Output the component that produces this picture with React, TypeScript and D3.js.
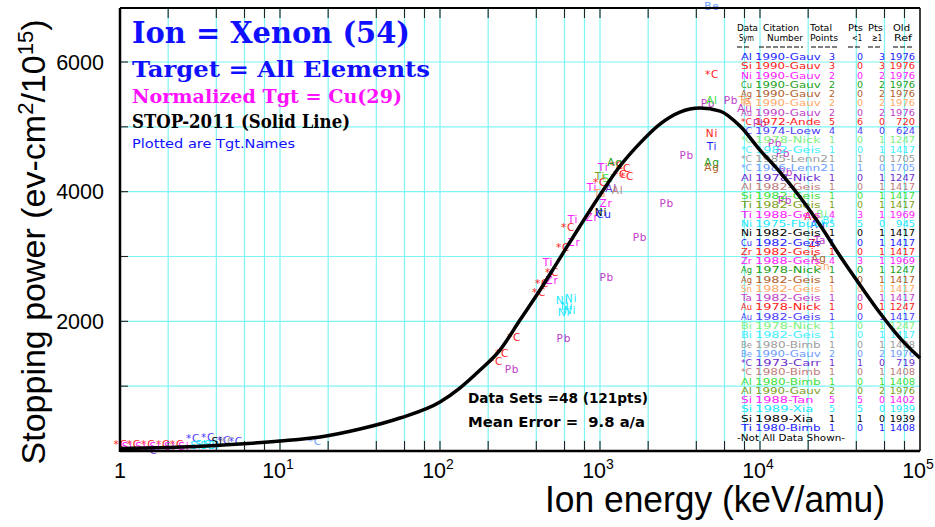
import React from "react";
import * as d3 from "d3";

// ---------- STOP-2011 curve (Xe in Cu) ----------
const curveE = [1, 2, 3, 5.6, 10, 17.8, 31.6, 56.2, 100, 133, 178, 237, 316, 422, 562, 750, 1000, 1334, 1778, 2371, 3162, 4217, 5623, 7499, 10000, 13335, 17783, 23714, 31623, 42170, 56234, 74989, 100000];
const curveV = [40, 55, 70, 108, 154, 216, 339, 509, 756, 971, 1249, 1557, 2020, 2483, 2976, 3470, 3948, 4395, 4749, 5042, 5227, 5289, 5243, 5012, 4641, 4302, 3917, 3485, 3007, 2560, 2128, 1742, 1434];

// ---------- data-set table ----------
const dataSym = ["Al","Si","Ni","Cu","Ag","Ta","Au","*C","*C","*C","*C","*C","*C","Al","Al","Si","Ti","Ti","Ni","Ni","Cu","Zr","Zr","Ag","Ag","Sn","Ta","Au","Au","Bi","Bi","Be","Be","*C","*C","Al","Al","Si","Si","Si","Ti"];
const citations = ["1990-Gauv","1990-Gauv","1990-Gauv","1990-Gauv","1990-Gauv","1990-Gauv","1990-Gauv","1972-Ande","1974-Loew","1978-Nick","1982-Geis","1985-Lenn2","1986-Lenn2","1978-Nick","1982-Geis","1982-Geis","1982-Geis","1988-Geis","1975-Fbuch","1982-Geis","1982-Geis","1982-Geis","1988-Geis","1978-Nick","1982-Geis","1982-Geis","1982-Geis","1978-Nick","1982-Geis","1978-Nick","1982-Geis","1980-Bimb","1990-Gauv","1973-Carr","1980-Bimb","1980-Bimb","1990-Gauv","1988-Tan","1989-Xia","1989-Xia","1980-Bimb"];
const totals = [3,3,2,2,2,2,2,5,4,1,1,1,1,1,1,1,1,4,5,1,1,1,4,1,1,1,1,1,1,1,1,1,2,1,1,1,2,5,5,1,1];
const ptsLt1 = [0,0,0,0,0,0,0,6,4,0,0,1,1,0,0,0,0,3,5,0,0,0,3,0,0,0,0,0,0,0,0,0,0,1,0,0,0,5,5,1,0];
const ptsGe1 = [3,3,2,2,2,2,2,0,0,1,1,0,0,1,1,1,1,1,0,1,1,1,1,1,1,1,1,1,1,1,1,1,2,0,1,1,2,0,0,0,1];
const oldRef = ["1976","1976","1976","1976","1976","1976","1976","720","624","1247","1417","1705","1705","1247","1417","1417","1417","1969","945","1417","1417","1417","1969","1247","1417","1417","1417","1247","1417","1247","1417","1408","1976","719","1408","1408","1976","1402","1939","1939","1408"];
const headerTop = ["Data", "Citation", "Total", "Pts", "Pts", "Old"];
const headerBottom = ["Sym", "Number", "Points", "<1", "\u22651", "Ref"];

// ---------- measured points: [label, data set, energy keV/amu, stopping] ----------
const points: [string, number, number, number][] = [
  ["*C",7,1.01,108],["*C",7,1.22,108],["*C",7,1.5,108],["*C",7,1.86,108],["*C",7,2.27,108],
  ["Si",37,1.11,77],["Si",37,1.35,77],["Si",37,1.66,77],["Si",37,2.05,77],["Si",37,2.51,77],
  ["*C",33,1.55,10],
  ["*C",8,2.86,200],["*C",8,3.55,216],["*C",8,4.47,170],["*C",8,5.3,154],
  ["*C",11,4.73,154],
  ["Si",38,2.98,93],["Si",38,3.2,100],["Si",38,3.44,93],["Si",38,3.65,100],["Si",38,3.87,93],
  ["Si",39,4.04,154],
  ["*C",12,16.5,154],
  ["*C",47,224,1388],["*C",47,244,1511],["*C",47,290,1758],["*C",47,416,2452],["*C",47,434,2591],["*C",47,501,2760],["*C",47,587,3146],["*C",47,631,3454],["*C",47,1000,4148],["*C",47,1277,4410],["*C",47,1413,4364],["*C",47,1334,4271],["*C",47,1476,4240],["*C",47,5012,5813],
  ["Ti",17,473,2914],["Ti",17,678,3577],["Ti",17,891,4071],["Ti",17,1045,4379],
  ["Zr",22,501,2637],["Zr",22,688,3223],["Zr",22,891,3608],["Zr",22,1090,3824],
  ["Ni",18,579,2328],["Ni",18,622,2236],["Ni",18,659,2359],["Ni",18,596,2143],["Ni",18,649,2174],
  ["Al",13,1172,4055],["Al",14,1290,4025],["Si",15,1122,4210],["Ti",16,1000,4240],
  ["Ag",23,1241,4456],["Ta",5,1000,3978],["Ni",19,1014,3685],["Cu",20,1059,3655],
  ["Pb",46,282,1264],["Pb",46,594,1742],["Pb",46,1101,2683],["Pb",46,1778,3300],["Pb",46,2611,3824],["Pb",46,3487,4564],["Pb",46,4732,5366],
  ["Pb",46,6590,5412],["Pb",46,10000,5058],["Pb",46,12400,4749],["Pb",46,13930,4595],["Pb",46,14540,4302],["Pb",46,14330,3870],
  ["Ti",40,5012,4703],["Ag",3,5012,4456],["Ag",4,5012,4379],["Ni",1,5012,4904],["Al",35,5012,5412],["Ta",5,8060,5412],["Au",6,8060,5289],
  ["Be",32,5012,6862],
  ["Au",27,21130,3624],["Bi",29,24410,3655],["Bi",30,26610,3562],["Au",28,23040,3500],["Zr",21,22070,3207],["Ta",26,23710,3254],["Ag",24,23390,2976],["Sn",25,24780,2853],
];

const yGridValues = [1000, 2000, 3000, 4000, 5000, 6000];
const yTickLabels = [2000, 4000, 6000];
const xDecades = [0, 1, 2, 3, 4, 5];
const minorMult = [2, 4, 6, 8];

const palette = ["#1c1cff","#ff2020","#ff20ff","#20a020","#b0602c","#ffa868","#c040c8","#ff2020","#4c3cff","#7ef07e","#3cf0ff","#9c9c9c","#6c9cff","#6c2cd0","#c07c7c","#3ce03c","#7ca020","#ff20ff","#20e8ff","#000000"];

export default function App() {
  const W = 935, H = 527;
  const x = d3.scaleLog().domain([1, 1e5]).range([120, 920]);
  const y = d3.scaleLinear().domain([0, 6000]).range([451, 62]);
  const top = 8;
  const left = x(1), right = x(1e5), bottom = y(0);

  const gridE: number[] = [];
  for (let d = 0; d < 5; d++) {
    for (const m of minorMult) gridE.push(m * Math.pow(10, d));
    if (d > 0) gridE.push(Math.pow(10, d));
  }

  const line = d3.line<number>()
    .x((_, i) => x(curveE[i]))
    .y((d) => y(d))
    .curve(d3.curveMonotoneX);

  const rowY = (i: number) => 60 + i * 9.275;
  const tbl = { fontFamily: "DejaVu Sans", fontSize: 9.5 } as any;
  const serifB = { fontFamily: "DejaVu Serif", fontWeight: "bold" } as any;
  // header layout: [x start top, width top, x start bottom, width bottom]
  const headPos = [[737, 21, 739, 15], [763, 36, 767, 36], [810, 22, 810, 28], [848, 15, 852, 10], [868, 15, 872, 10], [893, 17, 894, 18]];

  return (
    <svg width={W} height={H} style={{ position: "absolute", left: 0, top: 0, background: "#fff" }}>
      <rect x={0} y={0} width={W} height={H} fill="#fff" />
      {/* grid */}
      {gridE.map((e, i) => (
        <line key={"gv" + i} x1={x(e)} x2={x(e)} y1={top} y2={bottom} stroke="#7ff4f4" strokeWidth={1.2} />
      ))}
      {yGridValues.map((v, i) => (
        <line key={"gh" + i} x1={left} x2={right} y1={y(v)} y2={y(v)} stroke="#7ff4f4" strokeWidth={1.2} />
      ))}
      {/* ticks */}
      {gridE.map((e, i) => (
        <g key={"tk" + i}>
          <line x1={x(e)} x2={x(e)} y1={top} y2={top + 10} stroke="#222" strokeWidth={1.1} />
          <line x1={x(e)} x2={x(e)} y1={bottom} y2={bottom - 10} stroke="#222" strokeWidth={1.1} />
        </g>
      ))}
      {yGridValues.map((v, i) => (
        <line key={"yt" + i} x1={left} x2={left + 8} y1={y(v)} y2={y(v)} stroke="#222" strokeWidth={1.1} />
      ))}

      {/* data point labels */}
      {points.map((p, i) => (
        <text key={"pt" + i} x={x(p[2])} y={y(p[3])} dy="0.35em" textAnchor="middle"
          fill={palette[p[1] % 20]} style={{ fontFamily: "DejaVu Sans", fontSize: 10.5, letterSpacing: 0.8 }}>
          {p[0]}
        </text>
      ))}

      {/* titles inside plot */}
      <text x={132} y={43} fill="#1010ff" fontSize={29} textLength={278} lengthAdjust="spacingAndGlyphs" style={serifB}>Ion = Xenon (54)</text>
      <text x={132} y={77} fill="#1010ff" fontSize={22} textLength={298} lengthAdjust="spacingAndGlyphs" style={serifB}>Target = All Elements</text>
      <text x={132} y={103} fill="#ff10ff" fontSize={18.5} textLength={270} lengthAdjust="spacingAndGlyphs" style={serifB}>Normalized Tgt = Cu(29)</text>
      <text x={132} y={128} fill="#000" fontSize={18} textLength={218} lengthAdjust="spacingAndGlyphs" style={serifB}>STOP-2011 (Solid Line)</text>
      <text x={132} y={148} fill="#1010ff" fontSize={12.5} textLength={163} lengthAdjust="spacingAndGlyphs" style={{ fontFamily: "DejaVu Sans" }}>Plotted are Tgt.Names</text>

      <text x={468} y={403} fill="#000" fontSize={14} textLength={180} lengthAdjust="spacingAndGlyphs" style={{ fontFamily: "DejaVu Sans", fontWeight: "bold", whiteSpace: "pre" }}>Data Sets =48 (121pts)</text>
      <text x={468} y={427} fill="#000" fontSize={14} textLength={177} lengthAdjust="spacingAndGlyphs" style={{ fontFamily: "DejaVu Sans", fontWeight: "bold", whiteSpace: "pre" }}>{"Mean Error =  9.8 a/a"}</text>

      {/* table header */}
      {headerTop.map((h, i) => (
        <g key={"hd" + i} fill="#000" style={tbl}>
          <text x={headPos[i][0]} y={31} textLength={headPos[i][1]} lengthAdjust="spacingAndGlyphs">{h}</text>
          <text x={headPos[i][2]} y={41} textLength={headPos[i][3]} lengthAdjust="spacingAndGlyphs">{headerBottom[i]}</text>
        </g>
      ))}
      {[[737, 750], [759, 803], [811, 838], [848, 862], [868, 882], [893, 912]].map((s, i) => (
        <line key={"dash" + i} x1={s[0]} x2={s[1]} y1={47} y2={47} stroke="#000" strokeWidth={1.2} strokeDasharray="5,2" />
      ))}
      {dataSym.map((s, i) => (
        <g key={"row" + i} fill={palette[i % 20]} style={tbl}>
          <text x={741} y={rowY(i)} textLength={s.length * 5.5} lengthAdjust="spacingAndGlyphs">{s}</text>
          <text x={755} y={rowY(i)} textLength={citations[i].length * 7.3} lengthAdjust="spacingAndGlyphs">{citations[i]}</text>
          <text x={832} y={rowY(i)} textAnchor="middle">{totals[i]}</text>
          <text x={860} y={rowY(i)} textAnchor="middle">{ptsLt1[i]}</text>
          <text x={882} y={rowY(i)} textAnchor="middle">{ptsGe1[i]}</text>
          <text x={915 - oldRef[i].length * 6.3} y={rowY(i)} textLength={oldRef[i].length * 6.3} lengthAdjust="spacingAndGlyphs">{oldRef[i]}</text>
        </g>
      ))}
      <text x={737} y={441} fill="#000" textLength={108} lengthAdjust="spacingAndGlyphs" style={tbl}>-Not All Data Shown-</text>

      {/* curve */}
      <path d={line(curveV) || ""} fill="none" stroke="#000" strokeWidth={3.5} strokeLinejoin="round" />

      {/* frame */}
      <line x1={left} x2={right} y1={top} y2={top} stroke="#000" strokeWidth={2} />
      <line x1={right} x2={right} y1={top} y2={bottom} stroke="#000" strokeWidth={1.5} />
      <line x1={left} x2={left} y1={top} y2={bottom + 1} stroke="#000" strokeWidth={2.5} />
      <line x1={left} x2={right} y1={bottom} y2={bottom} stroke="#000" strokeWidth={2.5} />

      {/* axis labels */}
      {yTickLabels.map((v) => (
        <text key={"yl" + v} x={104} y={y(v)} dy="0.35em" textAnchor="end" fill="#000"
          style={{ fontFamily: "Liberation Sans", fontSize: 21.5 }}>{v}</text>
      ))}
      {xDecades.map((d) => (
        <text key={"xl" + d} x={x(Math.pow(10, d)) - (d === 0 ? 0 : 2)} y={478} textAnchor="middle" fill="#000"
          style={{ fontFamily: "Liberation Sans", fontSize: 21.5 }}>
          {d === 0 ? "1" : (<>10<tspan fontSize={14} dy={-9}>{d}</tspan></>)}
        </text>
      ))}
      <text x={545} y={512} fill="#000" textLength={340} lengthAdjust="spacingAndGlyphs"
        style={{ fontFamily: "Liberation Sans", fontSize: 36 }}>Ion energy (keV/amu)</text>
      <text transform="translate(45,242) rotate(-90)" textAnchor="middle" fill="#000"
        style={{ fontFamily: "Liberation Sans", fontSize: 34 }}>
        Stopping power (ev-cm<tspan fontSize={22} dy={-12}>2</tspan><tspan dy={12}>/10</tspan><tspan fontSize={22} dy={-12}>15</tspan><tspan dy={12}>)</tspan>
      </text>
    </svg>
  );
}
